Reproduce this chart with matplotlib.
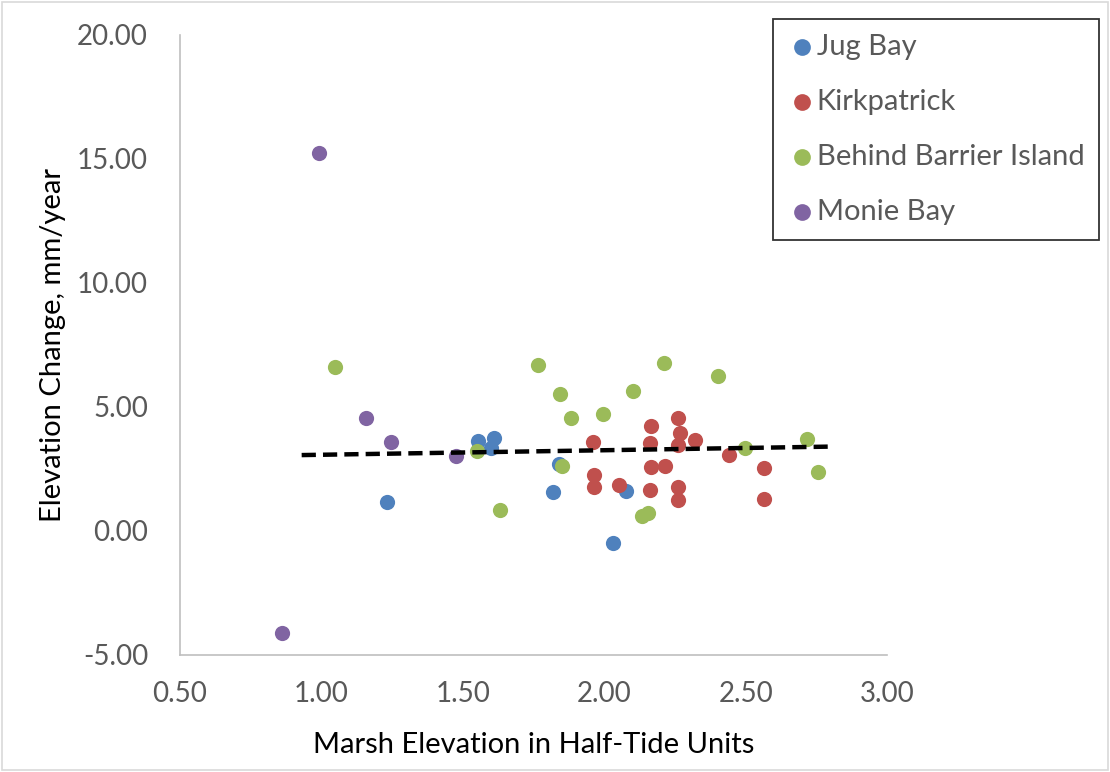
import numpy as np
import matplotlib.pyplot as plt
from matplotlib.patches import Rectangle

plt.rcParams['font.family'] = ['Lato', 'DejaVu Sans']

# data
jug_x = [1.231, 1.553, 1.599, 1.611, 1.820, 1.841, 2.032, 2.077]
jug_y = [1.18, 3.63, 3.36, 3.74, 1.58, 2.71, -0.47, 1.61]

kirk_x = [1.959, 1.962, 1.962, 2.052, 2.166, 2.160, 2.166, 2.160, 2.213,
          2.260, 2.268, 2.260, 2.260, 2.262, 2.322, 2.442, 2.563, 2.563]
kirk_y = [3.58, 2.26, 1.79, 1.85, 4.23, 3.55, 2.58, 1.65, 2.62,
          4.54, 3.95, 3.46, 1.77, 1.25, 3.68, 3.05, 2.55, 1.28]

barrier_x = [1.048, 1.549, 1.632, 1.765, 1.844, 1.883, 1.852, 1.997, 2.101,
             2.133, 2.156, 2.211, 2.401, 2.497, 2.715, 2.756]
barrier_y = [6.61, 3.23, 0.83, 6.69, 5.54, 4.57, 2.61, 4.70, 5.65,
             0.59, 0.74, 6.79, 6.24, 3.33, 3.70, 2.39]

monie_x = [0.860, 0.992, 1.158, 1.247, 1.475]
monie_y = [-4.10, 15.24, 4.54, 3.58, 3.02]

trend_x = [0.93, 2.79]
trend_y = [3.06, 3.40]

series = [
    ('Jug Bay', jug_x, jug_y, '#4F81BD'),
    ('Kirkpatrick', kirk_x, kirk_y, '#C0504D'),
    ('Behind Barrier Island', barrier_x, barrier_y, '#9BBB59'),
    ('Monie Bay', monie_x, monie_y, '#8064A2'),
]

fig = plt.figure(figsize=(11.1, 7.72), dpi=100)
ax = fig.add_axes([0.1622, 0.1516, 0.6370, 0.8031])

for name, xs, ys, col in series:
    ax.scatter(xs, ys, s=120, color=col, label=name, zorder=3, linewidths=0)

ax.plot(trend_x, trend_y, color='black', lw=3.2, ls=(0, (3.2, 1.6)), zorder=4)

ax.set_xlim(0.5, 3.0)
ax.set_ylim(-5, 20)
ax.set_xticks(np.arange(0.5, 3.01, 0.5))
ax.set_yticks(np.arange(-5, 20.01, 5))
ax.xaxis.set_major_formatter(plt.FormatStrFormatter('%.2f'))
ax.yaxis.set_major_formatter(plt.FormatStrFormatter('%.2f'))
ax.tick_params(length=0, labelsize=20, colors='#595959')
ax.tick_params(axis='y', pad=23)
ax.tick_params(axis='x', pad=19)

for s in ['top', 'right']:
    ax.spines[s].set_visible(False)
for s in ['left', 'bottom']:
    ax.spines[s].set_color('#bfbfbf')
    ax.spines[s].set_linewidth(1.2)

ax.set_xlabel('Marsh Elevation in Half-Tide Units', fontsize=21, color='black', labelpad=18)
ax.set_ylabel('Elevation Change, mm/year', fontsize=21, color='black', labelpad=8)

leg = fig.legend(loc='upper left', bbox_to_anchor=(773 / 1110, 1 - 19 / 772),
                 borderaxespad=0, fontsize=21, frameon=True, fancybox=False,
                 handletextpad=0.0, handlelength=1.0, labelspacing=1.0,
                 borderpad=0.5, markerscale=1.1)
leg.get_frame().set_edgecolor('black')
leg.get_frame().set_linewidth(1.3)
for t in leg.get_texts():
    t.set_color('#595959')

fig.patches.append(Rectangle((0.002, 0.002), 0.996, 0.996, transform=fig.transFigure,
                             fill=False, edgecolor='#d9d9d9', lw=1.2))

fig.savefig('out.png', dpi=100)
